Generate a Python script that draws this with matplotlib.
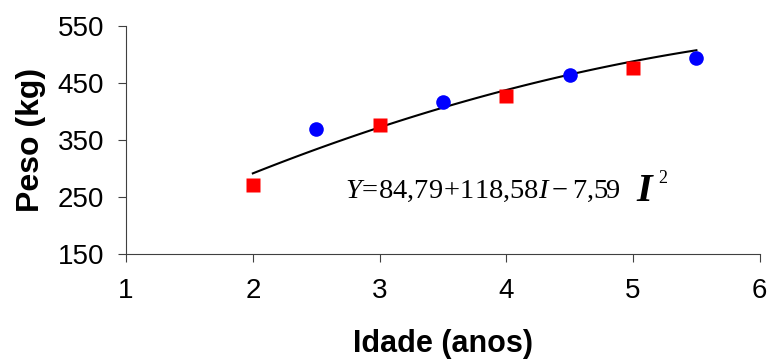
import numpy as np
import matplotlib
matplotlib.use("Agg")
import matplotlib.pyplot as plt

# observed weights
idade_par = [2, 3, 4, 5]
peso_par = [272, 376, 427, 476]
idade_impar = [2.5, 3.5, 4.5, 5.5]
peso_impar = [369, 417, 464, 494]

# fitted quadratic (from the chart's equation): a + b*I + c*I^2
coef = [84.79, 118.58, -7.59]
fit_range = [2, 5.5]

plt.rcParams["font.family"] = ["Liberation Sans", "DejaVu Sans"]
plt.rcParams["mathtext.fontset"] = "custom"
plt.rcParams["mathtext.rm"] = "Liberation Serif"
plt.rcParams["mathtext.it"] = "Liberation Serif:italic"

fig = plt.figure(figsize=(7.69, 3.6), dpi=100)
ax = fig.add_axes([0.164, 0.294, 0.824, 0.634])

xs = np.linspace(fit_range[0], fit_range[1], 100)
ys = coef[0] + coef[1] * xs + coef[2] * xs ** 2
ax.plot(xs, ys, color="black", lw=1.5, zorder=2)
ax.plot(idade_par, peso_par, "s", color="#FF0000", ms=10, mec="none", zorder=3)
ax.plot(idade_impar, peso_impar, "o", color="#0000FF", ms=10.5, mec="none", zorder=3)

ax.set_xlim(1, 6)
ax.set_ylim(150, 550)
ax.set_xticks([1, 2, 3, 4, 5, 6])
ax.set_yticks([150, 250, 350, 450, 550])
for s in ["top", "right"]:
    ax.spines[s].set_visible(False)
for s in ["left", "bottom"]:
    ax.spines[s].set_color("#404040")
ax.tick_params(direction="out", length=6, colors="#404040", labelcolor="black",
               labelsize=20)
ax.tick_params(axis="x", pad=11)
ax.tick_params(axis="y", pad=10)

ax.set_xlabel("Idade (anos)", fontsize=22, fontweight="bold", labelpad=18)
ax.set_ylabel("Peso (kg)", fontsize=23, fontweight="bold", labelpad=8)

ax.text(2.73, 248, r"$Y\!=\!84{,}79\!+\!118{,}58I - 7{,}59$", fontsize=20.5,
        ha="left", va="baseline")
ax.text(5.025, 244, "I", family="Liberation Serif", fontstyle="italic",
        fontweight="bold", fontsize=29, ha="left", va="baseline")
ax.text(5.2, 274, "2", family="Liberation Serif", fontsize=13,
        ha="left", va="baseline")

fig.savefig("out.png", dpi=100)
